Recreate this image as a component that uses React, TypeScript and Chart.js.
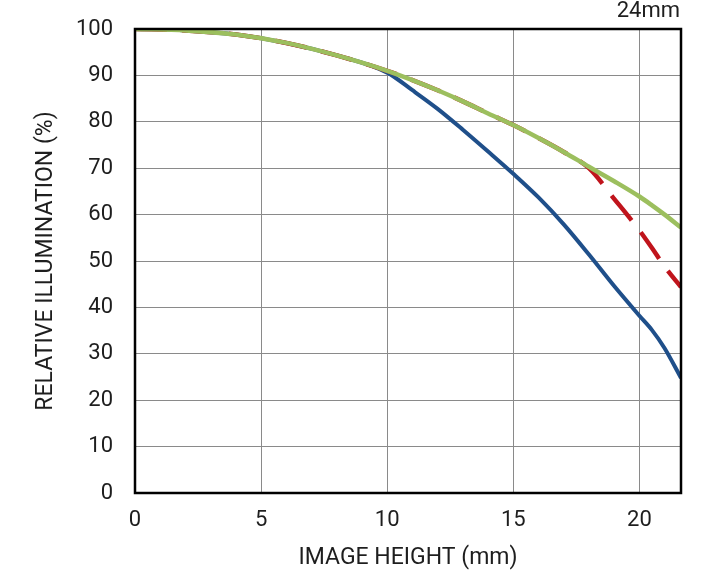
import React, { useEffect, useRef } from "react";
import { Chart, registerables } from "chart.js";

Chart.register(...registerables);

const imageHeight = [0, 2, 4, 6, 8, 10, 11, 12, 13, 14, 15, 16, 17, 18, 19, 20, 20.5, 21, 21.65];
const blueSeries = [100, 99.7, 98.8, 97.0, 94.3, 90.6, 86.8, 82.8, 78.3, 73.6, 68.8, 63.7, 57.9, 51.4, 44.6, 38.2, 35.1, 31.2, 24.8];
const greenSeries = [100, 99.7, 98.8, 97.0, 94.3, 91.0, 89.0, 86.8, 84.4, 81.8, 79.3, 76.5, 73.5, 70.3, 67.2, 63.9, 62.0, 60.0, 57.2];
const redSeries = [100, 99.7, 98.8, 97.0, 94.3, 91.0, 89.0, 86.8, 84.4, 81.8, 79.3, 76.5, 73.5, 70.0, 63.4, 56.6, 52.8, 48.8, 44.4];
const xTicks = [0, 5, 10, 15, 20];
const titleText = "24mm";
const xTitle = "IMAGE HEIGHT (mm)";
const yTitle = "RELATIVE ILLUMINATION (%)";

const FONT = "Roboto";
const TEXT = "#1e1e1e";

const frame = {
  id: "frame",
  afterDatasetsDraw(chart: any) {
    const { ctx, chartArea } = chart;
    ctx.save();
    ctx.strokeStyle = "#000";
    ctx.lineWidth = 2.5;
    ctx.strokeRect(chartArea.left, chartArea.top, chartArea.right - chartArea.left, chartArea.bottom - chartArea.top);
    ctx.restore();
  },
  afterDraw(chart: any) {
    const { ctx, chartArea } = chart;
    ctx.save();
    ctx.fillStyle = TEXT;
    ctx.font = `22px ${FONT}`;
    ctx.textAlign = "right";
    ctx.textBaseline = "middle";
    ctx.fillText(titleText, chartArea.right - 1, chartArea.top - 18);
    ctx.restore();
  },
};

export default function App() {
  const ref = useRef<HTMLCanvasElement>(null);
  useEffect(() => {
    if (!ref.current) return;
    const toPts = (ys: number[]) => imageHeight.map((x, i) => ({ x, y: ys[i] }));
    const chart = new Chart(ref.current, {
      type: "line",
      data: {
        datasets: [
          { data: toPts(greenSeries), borderColor: "#9cbf5e", borderWidth: 4.5, pointRadius: 0, cubicInterpolationMode: "monotone", fill: false },
          { data: toPts(redSeries), borderColor: "#c0141c", borderWidth: 4.5, borderDash: [32, 15], pointRadius: 0, cubicInterpolationMode: "monotone", fill: false },
          { data: toPts(blueSeries), borderColor: "#1f4f8a", borderWidth: 4, pointRadius: 0, cubicInterpolationMode: "monotone", fill: false },
        ],
      },
      options: {
        animation: false,
        responsive: false,
        maintainAspectRatio: false,
        layout: { padding: { left: 0, right: 39, top: 29, bottom: 0 } },
        plugins: {
          legend: { display: false },
          tooltip: { enabled: false },
          title: { display: false },
        },
        scales: {
          x: {
            type: "linear",
            min: 0,
            max: 21.65,
            afterBuildTicks: (s: any) => {
              s.ticks = xTicks.map((v) => ({ value: v }));
            },
            afterFit: (s: any) => {
              s.height = 77;
              s.paddingLeft = 0;
              s.paddingRight = 0;
            },
            grid: { color: "#8a8a8a", lineWidth: 1, drawTicks: false },
            border: { display: false },
            ticks: { color: TEXT, padding: 14, font: { family: FONT, size: 22 } },
            title: {
              display: true,
              text: xTitle,
              color: TEXT,
              font: { family: FONT, size: 23, lineHeight: 1 },
              padding: { top: 0, bottom: 0 },
            },
          },
          y: {
            type: "linear",
            min: 0,
            max: 100,
            ticks: { stepSize: 10, color: TEXT, padding: 22, font: { family: FONT, size: 22 } },
            afterFit: (s: any) => {
              s.width = 135;
              s.paddingTop = 0;
              s.paddingBottom = 0;
            },
            grid: { color: "#8a8a8a", lineWidth: 1, drawTicks: false },
            border: { display: false },
            title: {
              display: true,
              text: yTitle,
              color: TEXT,
              font: { family: FONT, size: 23, lineHeight: 1 },
              padding: { top: 35, bottom: 0 },
            },
          },
        },
      },
      plugins: [frame],
    });
    return () => chart.destroy();
  }, []);
  return (
    <div style={{ position: "fixed", left: 0, top: 0, width: 720, height: 570, background: "#fff" }}>
      <canvas ref={ref} width={720} height={570} style={{ width: 720, height: 570 }} />
    </div>
  );
}
